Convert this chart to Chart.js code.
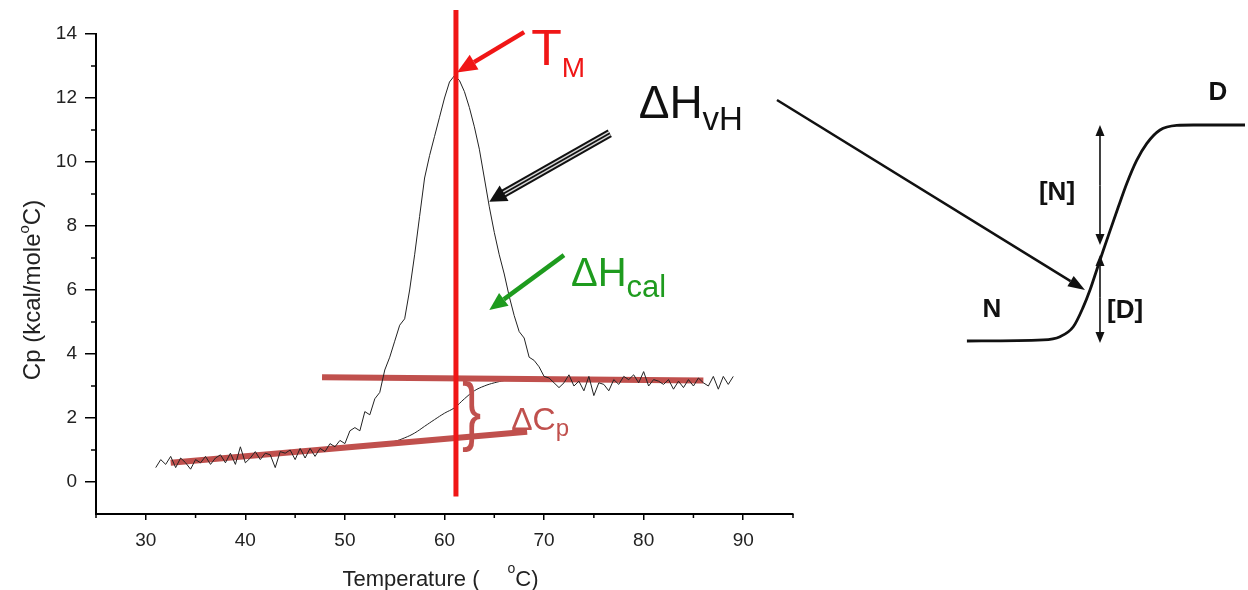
<!DOCTYPE html>
<html>
<head>
<meta charset="utf-8">
<script src="https://cdn.jsdelivr.net/npm/chart.js@4.4.1/dist/chart.umd.min.js"></script>
<style>
  html, body { margin: 0; padding: 0; background: #fff; }
  #wrap { position: relative; width: 1248px; height: 590px; overflow: hidden; }
  #dsc { position: absolute; left: 0; top: 0; }
  #scheme { position: absolute; left: 760px; top: 0; }
</style>
</head>
<body>
<div id="wrap">
  <canvas id="dsc" width="800" height="590"></canvas>
  <canvas id="scheme" width="488" height="590"></canvas>
</div>
<script>
// DSC scan (0.5 degC steps)
const temps = [
  31, 31.5, 32, 32.5, 33, 33.5, 34, 34.5, 35, 35.5,
  36, 36.5, 37, 37.5, 38, 38.5, 39, 39.5, 40, 40.5,
  41, 41.5, 42, 42.5, 43, 43.5, 44, 44.5, 45, 45.5,
  46, 46.5, 47, 47.5, 48, 48.5, 49, 49.5, 50, 50.5,
  51, 51.5, 52, 52.5, 53, 53.5, 54, 54.5, 55, 55.5,
  56, 56.5, 57, 57.5, 58, 58.5, 59, 59.5, 60, 60.5,
  61, 61.5, 62, 62.5, 63, 63.5, 64, 64.5, 65, 65.5,
  66, 66.5, 67, 67.5, 68, 68.5, 69, 69.5, 70, 70.5,
  71, 71.5, 72, 72.5, 73, 73.5, 74, 74.5, 75, 75.5,
  76, 76.5, 77, 77.5, 78, 78.5, 79, 79.5, 80, 80.5,
  81, 81.5, 82, 82.5, 83, 83.5, 84, 84.5, 85, 85.5,
  86, 86.5, 87, 87.5, 88, 88.5, 89
];
const cp = [
  0.45, 0.7, 0.55, 0.8, 0.45, 0.75, 0.6, 0.4, 0.7, 0.6,
  0.8, 0.55, 0.75, 0.85, 0.6, 0.9, 0.55, 1.1, 0.6, 0.75,
  0.95, 0.7, 0.9, 0.85, 0.45, 0.95, 0.9, 1.0, 0.7, 1.05,
  0.75, 1.05, 0.8, 1.05, 0.95, 1.2, 1.1, 1.3, 1.2, 1.6,
  1.7, 1.6, 2.2, 2.1, 2.6, 2.8, 3.5, 3.9, 4.4, 4.9,
  5.1, 6.0, 7.1, 8.3, 9.5, 10.2, 10.8, 11.4, 12.0, 12.5,
  12.7, 12.55, 12.2, 11.7, 11.1, 10.4, 9.5, 8.6, 7.8, 7.1,
  6.5, 5.8, 5.2, 4.7, 4.5, 3.9, 3.8, 3.6, 3.3, 3.25,
  3.1, 2.95, 3.1, 3.35, 3.0, 3.15, 2.85, 3.3, 2.7, 3.1,
  3.05, 2.85, 3.2, 3.05, 3.3, 3.2, 3.35, 3.1, 3.45, 3.0,
  3.2, 3.15, 3.05, 3.2, 2.9, 3.15, 2.95, 3.2, 3.0, 3.25,
  3.1, 3.0, 3.3, 2.9, 3.3, 3.05, 3.3
];

// progress baseline under the peak (thin line)
const baseT = [54, 55, 56, 57, 58, 59, 60, 61, 62, 63, 64, 65, 66, 66.5];
const baseCp = [1.2, 1.27, 1.38, 1.53, 1.74, 1.95, 2.15, 2.32, 2.6, 2.85, 3.0, 3.1, 3.17, 3.2];

// native / denatured baselines (thick)
const preT = [32.5, 68.3];
const preCp = [0.6, 1.57];
const postT = [47.7, 86];
const postCp = [3.27, 3.17];

// melting temperature marker
const tmT = [61.15, 61.15];
const tmCp = [-0.45, 14.75];

const xTicks = [30, 40, 50, 60, 70, 80, 90];
const xMinor = [25, 35, 45, 55, 65, 75, 85, 95];
const yTicks = [0, 2, 4, 6, 8, 10, 12, 14];
const yMinor = [1, 3, 5, 7, 9, 11, 13];

// two-state schematic: fraction unfolded vs. arbitrary temperature
const foldX = [42.4, 58.05, 61.48, 64.2, 66.25, 67.62, 69.0, 70.35, 71.72, 73.42, 75.14, 77.19, 79.24, 81.97, 85.39, 88.79, 99.39];
const foldFrac = [0, 0.005, 0.02, 0.066, 0.158, 0.236, 0.329, 0.42, 0.51, 0.62, 0.728, 0.836, 0.914, 0.977, 0.998, 1.0, 1.0];

const font = '"Liberation Sans", Arial, sans-serif';
const brick = '#c0504d';
const red = '#f01616';
const green = '#1e9b1e';
const ink = '#111';

const toXY = (xs, ys) => xs.map((x, i) => ({ x: x, y: ys[i] }));

function arrow(ctx, x1, y1, x2, y2, color, width, headLen, headW) {
  const a = Math.atan2(y2 - y1, x2 - x1);
  const bx = x2 - headLen * Math.cos(a);
  const by = y2 - headLen * Math.sin(a);
  ctx.strokeStyle = color;
  ctx.lineWidth = width;
  ctx.beginPath();
  ctx.moveTo(x1, y1);
  ctx.lineTo(bx, by);
  ctx.stroke();
  ctx.fillStyle = color;
  ctx.beginPath();
  ctx.moveTo(x2, y2);
  ctx.lineTo(bx + headW / 2 * Math.sin(a), by - headW / 2 * Math.cos(a));
  ctx.lineTo(bx - headW / 2 * Math.sin(a), by + headW / 2 * Math.cos(a));
  ctx.closePath();
  ctx.fill();
}

function subText(ctx, x, y, main, sub, size, subSize, drop, color) {
  ctx.fillStyle = color;
  ctx.textAlign = 'left';
  ctx.textBaseline = 'alphabetic';
  ctx.font = size + 'px ' + font;
  ctx.fillText(main, x, y);
  const w = ctx.measureText(main).width;
  ctx.font = subSize + 'px ' + font;
  ctx.fillText(sub, x + w, y + drop);
}

const dscNotes = {
  id: 'dscNotes',
  afterDraw(chart) {
    const { ctx, chartArea: area, scales: { x, y } } = chart;
    const px = v => x.getPixelForValue(v);
    const py = v => y.getPixelForValue(v);
    ctx.save();

    // minor ticks
    ctx.strokeStyle = '#000';
    ctx.lineWidth = 1.5;
    yMinor.forEach(v => {
      ctx.beginPath();
      ctx.moveTo(area.left - 5, py(v));
      ctx.lineTo(area.left, py(v));
      ctx.stroke();
    });
    xMinor.forEach(v => {
      ctx.beginPath();
      ctx.moveTo(px(v), area.bottom);
      ctx.lineTo(px(v), area.bottom + 4);
      ctx.stroke();
    });

    // axis titles
    ctx.fillStyle = '#222';
    ctx.textBaseline = 'alphabetic';
    ctx.textAlign = 'left';
    ctx.font = '22px ' + font;
    const t1 = 'Temperature (';
    const w1 = ctx.measureText(t1).width;
    const w3 = ctx.measureText('C)').width;
    ctx.font = '14px ' + font;
    const w2 = ctx.measureText('o').width;
    const gap = 28;
    const total = w1 + gap + w2 + w3;
    let x0 = (area.left + area.right) / 2 - 4 - total / 2;
    ctx.font = '22px ' + font;
    ctx.fillText(t1, x0, 586);
    ctx.font = '14px ' + font;
    ctx.fillText('o', x0 + w1 + gap, 573);
    ctx.font = '22px ' + font;
    ctx.fillText('C)', x0 + w1 + gap + w2, 586);

    ctx.save();
    ctx.translate(32, 290);
    ctx.rotate(-Math.PI / 2);
    ctx.font = '24px ' + font;
    const y1 = 'Cp (kcal/mole';
    const yw1 = ctx.measureText(y1).width;
    const yw3 = ctx.measureText('C)').width;
    ctx.font = '15px ' + font;
    const yw2 = ctx.measureText('o').width;
    const ytot = yw1 + yw2 + yw3;
    ctx.font = '24px ' + font;
    ctx.fillText(y1, -ytot / 2, 8);
    ctx.font = '15px ' + font;
    ctx.fillText('o', -ytot / 2 + yw1, -3);
    ctx.font = '24px ' + font;
    ctx.fillText('C)', -ytot / 2 + yw1 + yw2, 8);
    ctx.restore();

    // Tm arrow and label
    arrow(ctx, px(68.0), py(14.06), px(61.25), py(12.8), red, 4.5, 20, 17);
    subText(ctx, px(68.7), py(13.03), 'T', 'M', 50, 28, 12, red);

    // van 't Hoff enthalpy arrow (striped)
    const ax1 = px(76.6), ay1 = py(10.9), ax2 = px(64.5), ay2 = py(8.76);
    const ang = Math.atan2(ay2 - ay1, ax2 - ax1);
    const hx = ax2 - 15 * Math.cos(ang), hy = ay2 - 15 * Math.sin(ang);
    ctx.lineCap = 'butt';
    [[8.5, '#111'], [4.6, '#d8d8d8'], [1.8, '#111']].forEach(([w, c]) => {
      ctx.strokeStyle = c;
      ctx.lineWidth = w;
      ctx.beginPath();
      ctx.moveTo(ax1, ay1);
      ctx.lineTo(hx, hy);
      ctx.stroke();
    });
    arrow(ctx, hx, hy, ax2, ay2, '#111', 1, 17, 18);
    subText(ctx, px(79.5), py(11.375), '\u0394H', 'vH', 46, 33, 12, ink);

    // calorimetric enthalpy arrow
    arrow(ctx, px(72.0), py(7.09), px(64.5), py(5.375), green, 4.5, 18, 16);
    subText(ctx, px(72.7), py(6.125), '\u0394H', 'cal', 40, 31, 11, green);

    // heat capacity change
    ctx.save();
    ctx.translate(px(61.75), py(1.45));
    ctx.scale(0.8, 1.05);
    ctx.fillStyle = brick;
    ctx.font = '72px ' + font;
    ctx.textAlign = 'left';
    ctx.textBaseline = 'alphabetic';
    ctx.fillText('}', 0, 0);
    ctx.restore();
    subText(ctx, px(66.7), py(1.625), '\u0394C', 'p', 32, 24, 6, brick);

    ctx.restore();
  }
};

new Chart(document.getElementById('dsc'), {
  type: 'line',
  data: {
    datasets: [
      { label: 'Tm', data: toXY(tmT, tmCp), borderColor: red, borderWidth: 5, clip: false, order: 0 },
      { label: 'Cp', data: toXY(temps, cp), borderColor: '#222', borderWidth: 1, order: 1 },
      { label: 'native baseline', data: toXY(preT, preCp), borderColor: brick, borderWidth: 6, order: 2 },
      { label: 'denatured baseline', data: toXY(postT, postCp), borderColor: brick, borderWidth: 6, order: 2 },
      { label: 'progress baseline', data: toXY(baseT, baseCp), borderColor: '#222', borderWidth: 1, tension: 0.4, order: 3 }
    ]
  },
  options: {
    responsive: false,
    animation: false,
    devicePixelRatio: 1,
    layout: { padding: { left: 0, right: 7, top: 34, bottom: 0 } },
    elements: { point: { radius: 0 }, line: { tension: 0 } },
    plugins: { legend: { display: false }, tooltip: { enabled: false } },
    scales: {
      x: {
        type: 'linear', min: 25, max: 95,
        afterBuildTicks: s => { s.ticks = xTicks.map(v => ({ value: v })); },
        afterFit: s => { s.height = 76; },
        border: { display: true, color: '#000', width: 2 },
        grid: { drawOnChartArea: false, tickLength: 6, color: '#000', lineWidth: 1.5 },
        ticks: { padding: 9, color: '#222', maxRotation: 0, font: { family: font, size: 19 } }
      },
      y: {
        type: 'linear', min: -1, max: 14,
        afterBuildTicks: s => { s.ticks = yTicks.map(v => ({ value: v })); },
        afterFit: s => { s.width = 96; },
        border: { display: true, color: '#000', width: 2 },
        grid: { drawOnChartArea: false, tickLength: 11, color: '#000', lineWidth: 1.5 },
        ticks: { padding: 8, color: '#222', font: { family: font, size: 19 } }
      }
    }
  },
  plugins: [dscNotes]
});

const schemeNotes = {
  id: 'schemeNotes',
  afterDraw(chart) {
    const { ctx, scales: { x, y } } = chart;
    const px = v => x.getPixelForValue(v);
    const py = v => y.getPixelForValue(v);
    ctx.save();
    // long pointer from the van 't Hoff label
    arrow(ctx, px(3.48), py(1.116), px(66.6), py(0.236), ink, 2.5, 17, 12);
    // [N] and [D] double arrows
    const ax = px(69.67);
    arrow(ctx, ax, py(0.72), ax, py(1.0), ink, 1.6, 11, 9);
    arrow(ctx, ax, py(0.72), ax, py(0.444), ink, 1.6, 11, 9);
    arrow(ctx, ax, py(0.2), ax, py(0.398), ink, 1.6, 11, 9);
    arrow(ctx, ax, py(0.2), ax, py(-0.009), ink, 1.6, 11, 9);
    ctx.fillStyle = ink;
    ctx.font = 'bold 26px ' + font;
    ctx.textAlign = 'center';
    ctx.textBaseline = 'middle';
    ctx.fillText('[N]', px(60.86), py(0.685));
    ctx.fillText('[D]', px(74.8), py(0.139));
    ctx.fillText('N', px(47.5), py(0.144));
    ctx.fillText('D', px(93.85), py(1.148));
    ctx.restore();
  }
};

new Chart(document.getElementById('scheme'), {
  type: 'line',
  data: {
    datasets: [
      { label: 'fraction unfolded', data: toXY(foldX, foldFrac), borderColor: ink, borderWidth: 2.8, cubicInterpolationMode: 'monotone', clip: false }
    ]
  },
  options: {
    responsive: false,
    animation: false,
    devicePixelRatio: 1,
    layout: { padding: 0 },
    elements: { point: { radius: 0 } },
    plugins: { legend: { display: false }, tooltip: { enabled: false } },
    scales: {
      x: { type: 'linear', display: false, min: 0, max: 100 },
      y: { type: 'linear', display: false, min: -1.1528, max: 1.5787 }
    }
  },
  plugins: [schemeNotes]
});
</script>
</body>
</html>
